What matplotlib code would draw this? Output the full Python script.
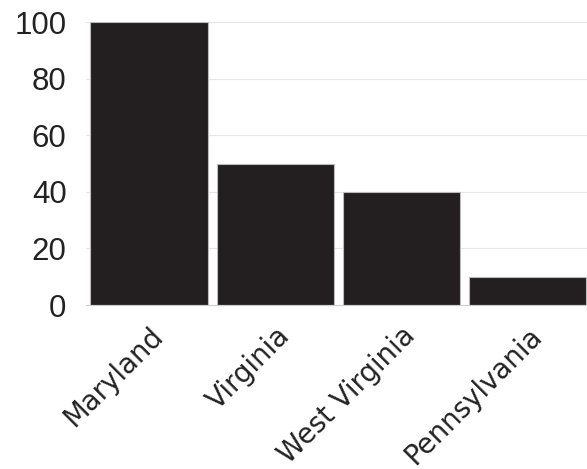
import matplotlib
matplotlib.use("Agg")
import matplotlib.pyplot as plt

categories = ["Maryland", "Virginia", "West Virginia", "Pennsylvania"]
values = [100, 50, 40, 10]
yticks = [0, 20, 40, 60, 80, 100]

W, H = 587, 469
fig = plt.figure(figsize=(W / 100, H / 100), dpi=100)
left, right = 86 / W, 590.6 / W
bottom, top = (H - 305) / H, (H - 22) / H
ax = fig.add_axes([left, bottom, right - left, top - bottom])

x = list(range(len(categories)))
ax.bar(x, values, width=0.93, color="#231f20", edgecolor="#bbbbbb", linewidth=0.8, zorder=3)
ax.set_xlim(-0.5, len(categories) - 0.5)
ax.set_ylim(0, 100)
ax.set_yticks(yticks)
ax.set_yticklabels([str(v) for v in yticks], fontsize=22.5, color="#222222",
                   family="Liberation Sans")
ax.yaxis.grid(True, color="#e6e6e6", linewidth=0.8, zorder=0)
ax.set_xticks(x)
ax.set_xticklabels(categories, rotation=45, ha="right", va="top", rotation_mode="anchor",
                   fontsize=19.8, color="#222222", family="DejaVu Sans")
ax.tick_params(axis="y", length=0, pad=14)
ax.tick_params(axis="x", length=0, pad=12)
for s in ["top", "right", "left"]:
    ax.spines[s].set_visible(False)
ax.spines["bottom"].set_color("#cccccc")
ax.spines["bottom"].set_linewidth(0.8)
ax.spines["bottom"].set_zorder(4)

fig.savefig("out.png", dpi=100)
